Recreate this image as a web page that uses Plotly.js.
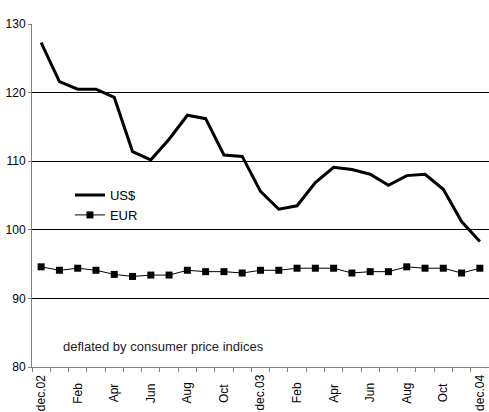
<!DOCTYPE html>
<html>
<head>
<meta charset="utf-8">
<script src="https://cdn.plot.ly/plotly-3.0.1.min.js"></script>
<style>html,body{margin:0;padding:0;background:#fff;}#chart{width:489px;height:412px;}</style>
</head>
<body>
<div id="chart"></div>
<script>
const months = ["dec.02","jan","Feb","mar","Apr","may","Jun","jul","Aug","sep","Oct","nov",
                "dec.03","jan","Feb","mar","Apr","may","Jun","jul","Aug","sep","Oct","nov","dec.04"];
const usd = [127.3,121.6,120.5,120.5,119.3,111.4,110.2,113.2,116.7,116.2,110.9,110.7,
             105.6,103.0,103.5,106.9,109.1,108.8,108.1,106.5,107.9,108.1,105.9,101.2,98.3];
const eur = [94.6,94.1,94.4,94.1,93.5,93.2,93.4,93.4,94.1,93.9,93.9,93.7,
             94.1,94.1,94.4,94.4,94.4,93.7,93.9,93.9,94.6,94.4,94.4,93.7,94.4];
const tickLabels = ["dec.02","Feb","Apr","Jun","Aug","Oct","dec.03","Feb","Apr","Jun","Aug","Oct","dec.04"];
const seriesNames = ["US$","EUR"];
const note = "deflated by consumer price indices";

const idx = months.map((m,i)=>i);
const labelIdx = idx.filter(i=>i%2===0);
const boundaries = idx.map(i=>i-0.5).concat([months.length-0.5]);

const fam = "Liberation Sans, Arial, sans-serif";
const tickFont = {family:fam, size:12, color:"#000"};

const traces = [
  {x: idx, y: usd, name: seriesNames[0], mode:"lines", line:{color:"#000", width:3}},
  {x: idx, y: eur, name: seriesNames[1], mode:"lines+markers", line:{color:"#000", width:1},
   marker:{symbol:"square", size:7, color:"#000"}}
];

const xLabelAnns = labelIdx.map((v,k)=>({
  text: tickLabels[k], xref:"x", yref:"paper", x:v, y:-0.076,
  xanchor:"center", yanchor:"middle", textangle:-90, showarrow:false, font:tickFont
}));

const layout = {
  width:489, height:412,
  margin:{l:32, r:0, t:24, b:45},
  paper_bgcolor:"#fff", plot_bgcolor:"#fff",
  font: tickFont,
  showlegend:true,
  legend:{x:0.083, y:0.545, xanchor:"left", yanchor:"top", bgcolor:"rgba(0,0,0,0)",
          font:{family:fam, size:13, color:"#000"}, tracegroupgap:0},
  xaxis:{
    range:[-0.5, months.length-0.5], tickmode:"array", tickvals:labelIdx, ticktext:tickLabels,
    showticklabels:false, ticks:"", showgrid:false, zeroline:false,
    showline:true, linecolor:"#808080", linewidth:1,
    minor:{tickmode:"array", tickvals:boundaries, ticks:"outside", ticklen:4, tickcolor:"#808080", showgrid:false}
  },
  yaxis:{
    range:[80,130], tickvals:[80,90,100,110,120,130], ticks:"outside", ticklen:3, tickcolor:"#808080",
    showgrid:true, gridcolor:"#000", gridwidth:1, zeroline:false,
    showline:true, linecolor:"#808080", linewidth:1, tickfont:tickFont
  },
  annotations:[{text:note, xref:"paper", yref:"paper", x:0.063, y:0.06, xanchor:"left", yanchor:"middle",
    showarrow:false, font:{family:fam, size:13, color:"#222"}}].concat(xLabelAnns)
};

Plotly.newPlot("chart", traces, layout, {displayModeBar:false, staticPlot:true});
</script>
</body>
</html>
